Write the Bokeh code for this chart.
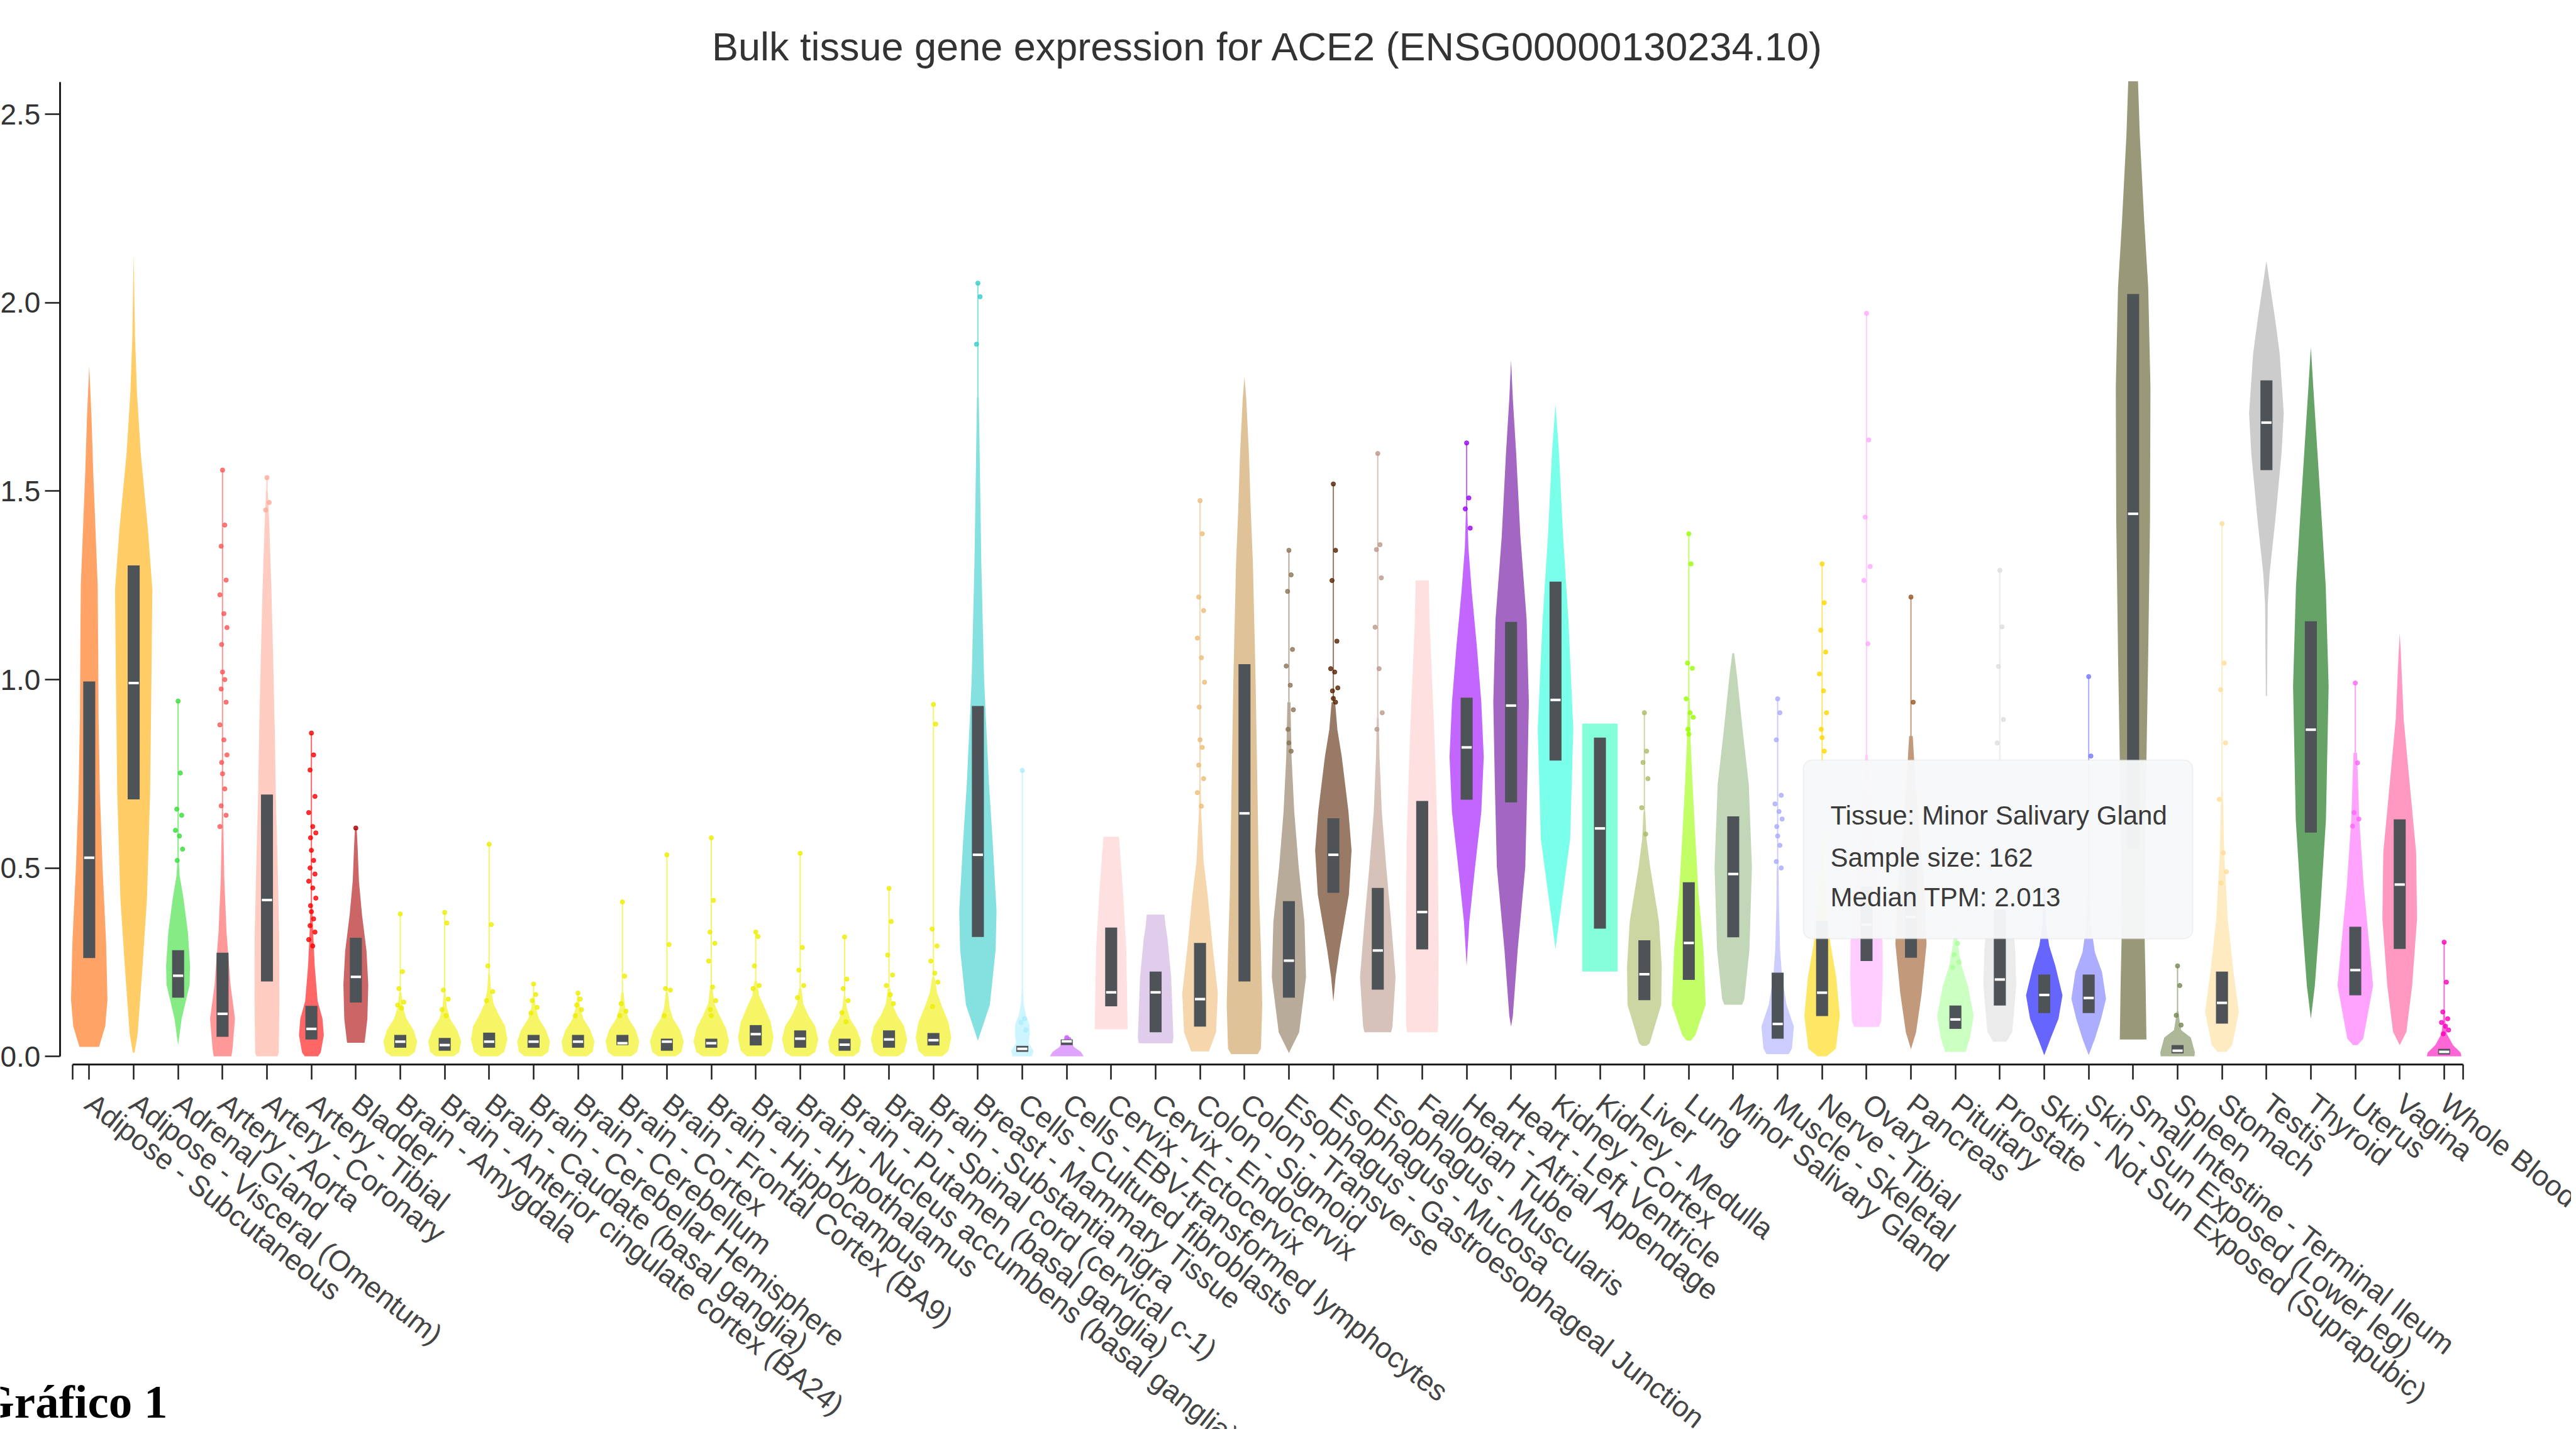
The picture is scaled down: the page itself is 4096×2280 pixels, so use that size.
import math
from bokeh.plotting import figure
from bokeh.models import Range1d, FixedTicker, BoxAnnotation, Label, ColumnDataSource, NumeralTickFormatter
from bokeh.embed import file_html
from bokeh.resources import INLINE

# ---------------- data ----------------
TISSUES = [
    "Adipose - Subcutaneous", "Adipose - Visceral (Omentum)", "Adrenal Gland", "Artery - Aorta",
    "Artery - Coronary", "Artery - Tibial", "Bladder", "Brain - Amygdala",
    "Brain - Anterior cingulate cortex (BA24)", "Brain - Caudate (basal ganglia)",
    "Brain - Cerebellar Hemisphere", "Brain - Cerebellum", "Brain - Cortex",
    "Brain - Frontal Cortex (BA9)", "Brain - Hippocampus", "Brain - Hypothalamus",
    "Brain - Nucleus accumbens (basal ganglia)", "Brain - Putamen (basal ganglia)",
    "Brain - Spinal cord (cervical c-1)", "Brain - Substantia nigra", "Breast - Mammary Tissue",
    "Cells - Cultured fibroblasts", "Cells - EBV-transformed lymphocytes", "Cervix - Ectocervix",
    "Cervix - Endocervix", "Colon - Sigmoid", "Colon - Transverse",
    "Esophagus - Gastroesophageal Junction", "Esophagus - Mucosa", "Esophagus - Muscularis",
    "Fallopian Tube", "Heart - Atrial Appendage", "Heart - Left Ventricle", "Kidney - Cortex",
    "Kidney - Medulla", "Liver", "Lung", "Minor Salivary Gland", "Muscle - Skeletal",
    "Nerve - Tibial", "Ovary", "Pancreas", "Pituitary", "Prostate",
    "Skin - Not Sun Exposed (Suprapubic)", "Skin - Sun Exposed (Lower leg)",
    "Small Intestine - Terminal Ileum", "Spleen", "Stomach", "Testis", "Thyroid", "Uterus",
    "Vagina", "Whole Blood",
]

COLORS = [
    "#FF6600", "#FFAA00", "#33DD33", "#FF5555", "#FFAA99", "#FF0000", "#AA0000",
    "#EEEE00", "#EEEE00", "#EEEE00", "#EEEE00", "#EEEE00", "#EEEE00", "#EEEE00",
    "#EEEE00", "#EEEE00", "#EEEE00", "#EEEE00", "#EEEE00", "#EEEE00",
    "#33CCCC", "#AAEEFF", "#CC66FF", "#FFCCCC", "#CCAADD", "#EEBB77", "#CC9955",
    "#8B7355", "#552200", "#BB9988", "#FFCCCC", "#9900FF", "#660099", "#22FFDD",
    "#33FFC2", "#AABB66", "#99FF00", "#99BB88", "#AAAAFF", "#FFD700", "#FFAAFF",
    "#995522", "#AAFF99", "#DDDDDD", "#0000FF", "#7777FF", "#555522", "#778855",
    "#FFDD99", "#AAAAAA", "#006600", "#FF66FF", "#FF5599", "#FF00BB",
]

Q1 = [0.261, 0.682, 0.156, 0.052, 0.199, 0.045, 0.143,
      0.023, 0.015, 0.023, 0.023, 0.023, 0.030, 0.015, 0.023, 0.029, 0.023, 0.015, 0.023, 0.029,
      0.317, 0.012, 0.030, 0.133, 0.064, 0.079, 0.199, 0.156, 0.434, 0.177, 0.284,
      0.681, 0.674, 0.785, 0.339, 0.149, 0.203, 0.316, 0.047, 0.107, 0.253, 0.262,
      0.073, 0.135, 0.115, 0.115, 0.550, 0.008, 0.087, 1.556, 0.594, 0.162, 0.285, 0.005]
MEDIAN = [0.527, 0.991, 0.214, 0.113, 0.415, 0.073, 0.211,
          0.039, 0.030, 0.039, 0.039, 0.039, 0.035, 0.039, 0.035, 0.059, 0.047, 0.031, 0.045, 0.043,
          0.535, 0.020, 0.040, 0.170, 0.170, 0.152, 0.645, 0.254, 0.535, 0.281, 0.383,
          0.820, 0.931, 0.946, 0.605, 0.218, 0.301, 0.484, 0.086, 0.169, 0.350, 0.370,
          0.098, 0.204, 0.163, 0.155, 1.440, 0.015, 0.142, 1.682, 0.867, 0.229, 0.456, 0.012]
Q3 = [0.995, 1.303, 0.282, 0.275, 0.695, 0.134, 0.315,
      0.057, 0.049, 0.063, 0.057, 0.057, 0.057, 0.047, 0.047, 0.083, 0.069, 0.047, 0.069, 0.062,
      0.930, 0.028, 0.045, 0.342, 0.225, 0.301, 1.041, 0.412, 0.632, 0.447, 0.678,
      0.952, 1.153, 1.260, 0.846, 0.308, 0.462, 0.637, 0.222, 0.360, 0.450, 0.500,
      0.135, 0.390, 0.217, 0.217, 2.023, 0.030, 0.225, 1.794, 1.155, 0.344, 0.629, 0.020]

# top of the thin whisker line above each violin (None = no line)
TAIL_MAX = [None, None, 0.943, 1.556, 1.536, 0.858, None,
            0.378, 0.382, 0.563, 0.192, 0.168, 0.410, 0.535, 0.580, 0.330, 0.539, 0.317, 0.446, 0.934,
            2.052, 0.759, None, None, None, 1.475, None, 1.343, 1.519, 1.600, None,
            1.628, None, None, None, 0.912, 1.387, None, 0.949, 1.307, 1.972, 1.219,
            0.340, 1.290, None, 1.008, None, 0.240, 1.414, None, None, 0.991, None, 0.303]

# violin outline: values (TPM) and half widths (fraction of a category band)
VIOLIN_V = [
    [0.025, 0.08, 0.15, 0.3, 0.5, 0.7, 0.9, 1.1, 1.25, 1.4, 1.55, 1.7, 1.833],
    [0.01, 0.06, 0.24, 0.42, 0.7, 1.0, 1.24, 1.4, 1.6, 1.76, 1.91, 2.13],
    [0.03, 0.1, 0.19, 0.24, 0.33, 0.42, 0.48, 0.52],
    [0.0, 0.02, 0.1, 0.19, 0.33, 0.47, 0.6, 0.65],
    [0.0, 0.01, 0.15, 0.33, 0.51, 0.69, 0.87, 1.05, 1.24, 1.4, 1.5],
    [0.0, 0.01, 0.056, 0.1, 0.147, 0.24, 0.33, 0.4],
    [0.036, 0.038, 0.1, 0.19, 0.28, 0.375, 0.465, 0.556, 0.606],
    [0.0, 0.012, 0.04, 0.07, 0.1, 0.13, 0.17],
    [0.0, 0.012, 0.04, 0.07, 0.1, 0.13, 0.17],
    [0.0, 0.012, 0.045, 0.08, 0.11, 0.14, 0.18, 0.22],
    [0.0, 0.012, 0.04, 0.07, 0.1, 0.13, 0.16],
    [0.0, 0.012, 0.04, 0.07, 0.1, 0.13, 0.16],
    [0.0, 0.012, 0.04, 0.07, 0.1, 0.13, 0.17],
    [0.0, 0.012, 0.04, 0.07, 0.1, 0.13, 0.17],
    [0.0, 0.012, 0.04, 0.075, 0.11, 0.14, 0.18],
    [0.0, 0.015, 0.05, 0.09, 0.13, 0.16, 0.2],
    [0.0, 0.012, 0.045, 0.08, 0.11, 0.14, 0.18],
    [0.0, 0.012, 0.04, 0.07, 0.1, 0.13, 0.16],
    [0.0, 0.012, 0.045, 0.08, 0.11, 0.14, 0.18],
    [0.0, 0.015, 0.05, 0.09, 0.13, 0.17, 0.21],
    [0.042, 0.137, 0.284, 0.386, 0.576, 0.722, 1.0, 1.31, 1.6, 1.75],
    [0.0, 0.015, 0.035, 0.06, 0.085, 0.11, 0.14, 0.18],
    [0.0, 0.012, 0.025, 0.04, 0.055],
    [0.072, 0.08, 0.284, 0.43, 0.576, 0.583],
    [0.035, 0.05, 0.21, 0.31, 0.35, 0.376],
    [0.013, 0.064, 0.167, 0.284, 0.43, 0.517, 0.65, 0.75],
    [0.006, 0.02, 0.137, 0.284, 0.43, 0.722, 1.0, 1.307, 1.453, 1.6, 1.745, 1.804],
    [0.009, 0.064, 0.21, 0.357, 0.503, 0.65, 0.795, 0.94],
    [0.145, 0.21, 0.284, 0.43, 0.547, 0.65, 0.795, 0.868, 0.94],
    [0.064, 0.079, 0.21, 0.357, 0.503, 0.65, 0.795, 0.9],
    [0.064, 0.08, 0.284, 0.576, 0.868, 1.16, 1.263],
    [0.24, 0.357, 0.503, 0.649, 0.795, 0.94, 1.088, 1.234, 1.35, 1.45],
    [0.079, 0.108, 0.284, 0.503, 0.722, 0.94, 1.16, 1.38, 1.6, 1.745, 1.848],
    [0.284, 0.357, 0.576, 0.868, 1.16, 1.38, 1.6, 1.731],
    [0.225, 0.883],
    [0.028, 0.035, 0.137, 0.24, 0.357, 0.503, 0.576, 0.65],
    [0.042, 0.057, 0.137, 0.284, 0.43, 0.576, 0.722, 0.84, 0.95],
    [0.137, 0.152, 0.284, 0.503, 0.722, 0.868, 1.015, 1.07],
    [0.006, 0.02, 0.079, 0.137, 0.21, 0.284, 0.4, 0.5],
    [0.0, 0.02, 0.108, 0.21, 0.298, 0.4, 0.5, 0.6],
    [0.078, 0.094, 0.21, 0.298, 0.43, 0.55, 0.7, 0.8],
    [0.019, 0.064, 0.167, 0.298, 0.45, 0.6, 0.75, 0.85],
    [0.012, 0.05, 0.108, 0.188, 0.24, 0.294, 0.33],
    [0.039, 0.065, 0.188, 0.276, 0.35, 0.45, 0.55, 0.65],
    [0.003, 0.047, 0.1, 0.162, 0.24, 0.294, 0.35, 0.45],
    [0.003, 0.047, 0.1, 0.153, 0.224, 0.276, 0.35, 0.45],
    [0.045, 0.2, 0.364, 0.717, 1.07, 1.42, 1.776, 2.04, 2.217, 2.447, 2.588],
    [0.0, 0.01, 0.05, 0.07, 0.1, 0.12],
    [0.012, 0.03, 0.118, 0.224, 0.365, 0.54, 0.7],
    [0.956, 1.2, 1.28, 1.423, 1.6, 1.706, 1.864, 1.953, 2.04, 2.111],
    [0.1, 0.188, 0.364, 0.629, 0.982, 1.247, 1.423, 1.6, 1.776, 1.882],
    [0.03, 0.047, 0.188, 0.276, 0.453, 0.629, 0.806],
    [0.03, 0.065, 0.188, 0.365, 0.541, 0.717, 0.894, 1.07, 1.123],
    [0.0, 0.01, 0.03, 0.06, 0.09, 0.12],
]
VIOLIN_W = [
    [0.22, 0.36, 0.41, 0.38, 0.30, 0.24, 0.21, 0.20, 0.19, 0.14, 0.09, 0.05, 0.0],
    [0.02, 0.09, 0.20, 0.30, 0.37, 0.40, 0.42, 0.32, 0.16, 0.075, 0.03, 0.0],
    [0.0, 0.08, 0.26, 0.27, 0.22, 0.12, 0.035, 0.015],
    [0.20, 0.225, 0.28, 0.18, 0.09, 0.04, 0.02, 0.015],
    [0.24, 0.265, 0.28, 0.275, 0.24, 0.20, 0.175, 0.14, 0.10, 0.056, 0.02],
    [0.15, 0.21, 0.28, 0.25, 0.14, 0.075, 0.04, 0.02],
    [0.19, 0.20, 0.26, 0.28, 0.24, 0.14, 0.07, 0.04, 0.02],
    [0.20, 0.33, 0.38, 0.30, 0.14, 0.06, 0.025],
    [0.20, 0.33, 0.37, 0.28, 0.12, 0.05, 0.02],
    [0.20, 0.34, 0.41, 0.36, 0.22, 0.10, 0.04, 0.02],
    [0.20, 0.33, 0.37, 0.28, 0.12, 0.05, 0.02],
    [0.20, 0.33, 0.37, 0.28, 0.12, 0.05, 0.02],
    [0.20, 0.33, 0.38, 0.30, 0.14, 0.06, 0.025],
    [0.20, 0.33, 0.38, 0.30, 0.14, 0.06, 0.025],
    [0.20, 0.34, 0.40, 0.33, 0.18, 0.07, 0.03],
    [0.20, 0.34, 0.40, 0.34, 0.20, 0.08, 0.03],
    [0.20, 0.34, 0.41, 0.34, 0.18, 0.07, 0.03],
    [0.20, 0.33, 0.37, 0.28, 0.12, 0.05, 0.02],
    [0.20, 0.34, 0.41, 0.34, 0.18, 0.07, 0.03],
    [0.20, 0.34, 0.40, 0.34, 0.20, 0.08, 0.03],
    [0.0, 0.27, 0.40, 0.42, 0.33, 0.25, 0.14, 0.077, 0.04, 0.02],
    [0.22, 0.25, 0.14, 0.17, 0.16, 0.08, 0.03, 0.015],
    [0.38, 0.32, 0.16, 0.10, 0.02],
    [0.37, 0.37, 0.34, 0.27, 0.18, 0.17],
    [0.38, 0.40, 0.35, 0.27, 0.22, 0.20],
    [0.20, 0.36, 0.40, 0.29, 0.17, 0.08, 0.025, 0.012],
    [0.30, 0.37, 0.40, 0.37, 0.33, 0.29, 0.25, 0.19, 0.14, 0.10, 0.04, 0.0],
    [0.0, 0.23, 0.385, 0.35, 0.22, 0.12, 0.06, 0.035],
    [0.0, 0.05, 0.14, 0.35, 0.41, 0.34, 0.19, 0.09, 0.04],
    [0.30, 0.33, 0.40, 0.30, 0.19, 0.09, 0.04, 0.02],
    [0.34, 0.36, 0.37, 0.35, 0.27, 0.165, 0.15],
    [0.0, 0.06, 0.19, 0.33, 0.385, 0.33, 0.23, 0.115, 0.04, 0.015],
    [0.0, 0.04, 0.15, 0.32, 0.365, 0.40, 0.35, 0.21, 0.115, 0.04, 0.0],
    [0.0, 0.08, 0.33, 0.40, 0.29, 0.17, 0.08, 0.0],
    [0.40, 0.40],
    [0.05, 0.12, 0.38, 0.39, 0.33, 0.13, 0.05, 0.02],
    [0.05, 0.15, 0.38, 0.33, 0.22, 0.15, 0.085, 0.04, 0.02],
    [0.20, 0.25, 0.365, 0.42, 0.35, 0.21, 0.08, 0.02],
    [0.25, 0.32, 0.365, 0.20, 0.10, 0.054, 0.03, 0.02],
    [0.10, 0.31, 0.40, 0.32, 0.19, 0.10, 0.04, 0.02],
    [0.28, 0.33, 0.365, 0.36, 0.30, 0.18, 0.08, 0.03],
    [0.0, 0.115, 0.24, 0.35, 0.30, 0.18, 0.09, 0.04],
    [0.23, 0.33, 0.41, 0.28, 0.14, 0.06, 0.02],
    [0.15, 0.28, 0.37, 0.35, 0.30, 0.22, 0.12, 0.05],
    [0.0, 0.14, 0.32, 0.41, 0.25, 0.11, 0.04, 0.02],
    [0.0, 0.14, 0.28, 0.39, 0.30, 0.14, 0.05, 0.02],
    [0.30, 0.28, 0.25, 0.29, 0.34, 0.38, 0.39, 0.34, 0.25, 0.15, 0.11],
    [0.38, 0.39, 0.30, 0.08, 0.04, 0.02],
    [0.10, 0.23, 0.38, 0.26, 0.13, 0.05, 0.02],
    [0.012, 0.03, 0.07, 0.20, 0.34, 0.39, 0.30, 0.20, 0.09, 0.0],
    [0.0, 0.09, 0.20, 0.34, 0.40, 0.335, 0.245, 0.15, 0.055, 0.0],
    [0.05, 0.18, 0.40, 0.33, 0.19, 0.09, 0.04],
    [0.0, 0.15, 0.28, 0.39, 0.37, 0.23, 0.09, 0.025, 0.0],
    [0.39, 0.37, 0.20, 0.06, 0.03, 0.015],
]

# outlier points (TPM)
POINTS = [
    [], [],
    [0.943, 0.752, 0.656, 0.64, 0.6, 0.585, 0.55, 0.52],
    [1.556, 1.41, 1.354, 1.264, 1.225, 1.175, 1.138, 1.093, 1.02, 1.0, 0.975, 0.94, 0.88, 0.84,
     0.8, 0.78, 0.75, 0.71, 0.665, 0.64, 0.61],
    [1.536, 1.47, 1.45],
    [0.858, 0.8, 0.76, 0.69, 0.647, 0.61, 0.593, 0.58, 0.547, 0.52, 0.5, 0.484, 0.465, 0.447,
     0.42, 0.4, 0.384, 0.365, 0.347, 0.33, 0.31, 0.293],
    [0.606],
    [0.378, 0.225, 0.18, 0.144, 0.136, 0.128],
    [0.382, 0.354, 0.176, 0.152, 0.124, 0.108],
    [0.563, 0.35, 0.24, 0.172, 0.148],
    [0.192, 0.164, 0.148, 0.13, 0.115],
    [0.168, 0.152, 0.136, 0.124, 0.108],
    [0.41, 0.213, 0.14, 0.12, 0.108],
    [0.535, 0.297, 0.18, 0.176, 0.108],
    [0.58, 0.414, 0.33, 0.3, 0.253, 0.184, 0.148, 0.124, 0.108],
    [0.33, 0.318, 0.24, 0.188, 0.18],
    [0.539, 0.289, 0.229, 0.188, 0.156],
    [0.317, 0.205, 0.18, 0.148, 0.116, 0.092],
    [0.446, 0.358, 0.269, 0.216, 0.188, 0.164, 0.14],
    [0.934, 0.882, 0.338, 0.293, 0.253, 0.221, 0.197, 0.132],
    [2.052, 2.016, 1.89],
    [0.759, 0.1, 0.09, 0.07],
    [0.05, 0.045],
    [], [],
    [1.475, 1.387, 1.219, 1.183, 1.11, 1.058, 0.993, 0.927, 0.84, 0.82, 0.773, 0.737, 0.7, 0.664],
    [],
    [1.343, 1.278, 1.234, 1.08, 1.036, 0.985, 0.92, 0.868, 0.832, 0.81],
    [1.519, 1.343, 1.263, 1.102, 1.029, 1.02, 0.978, 0.97, 0.95, 0.94],
    [1.6, 1.358, 1.345, 1.27, 1.139, 1.029, 0.912, 0.868],
    [],
    [1.628, 1.482, 1.453, 1.402],
    [], [], [],
    [0.912, 0.81, 0.78, 0.737, 0.66, 0.59],
    [1.387, 1.307, 1.044, 1.03, 0.949, 0.912, 0.9, 0.868, 0.855],
    [],
    [0.949, 0.912, 0.84, 0.693, 0.67, 0.65, 0.63, 0.61, 0.585, 0.56, 0.517, 0.5],
    [1.307, 1.204, 1.131, 1.073, 1.015, 0.97, 0.912, 0.868, 0.846, 0.81],
    [1.972, 1.636, 1.431, 1.3, 1.263, 1.095],
    [1.219, 0.94],
    [0.34, 0.3, 0.27, 0.25, 0.236],
    [1.29, 1.14, 1.035, 0.894, 0.832],
    [],
    [1.008, 0.797],
    [],
    [0.24, 0.188, 0.109, 0.083],
    [1.414, 1.044, 0.973, 0.832, 0.682, 0.54, 0.49, 0.46],
    [], [],
    [0.991, 0.779, 0.647, 0.63, 0.611],
    [],
    [0.303, 0.197, 0.118, 0.1, 0.09, 0.08, 0.07, 0.06],
]

Y_TICKS = [0.0, 0.5, 1.0, 1.5, 2.0, 2.5]
TITLE = "Bulk tissue gene expression for ACE2 (ENSG00000130234.10)"
TOOLTIP_LINES = ["Tissue: Minor Salivary Gland", "Sample size: 162", "Median TPM: 2.013"]
CAPTION = "Gráfico 1"

# ---------------- layout (canvas pixels) ----------------
W, H = 4088, 2272
X0_PX, BAND = 141.4, 70.65                    # first category centre, px per category
Y0_PX, UNIT = 1679.1, 599.1                   # y=0 position, px per TPM unit
XAXIS_PY, YAXIS_PX = 1692, 94.9               # where the two axis lines sit


def xd(px):
    return (px - X0_PX) / BAND


def yd(py):
    return (Y0_PX - py) / UNIT


FONT = "Liberation Sans"

# the frame covers the whole canvas; axes are pinned with fixed_location
p = figure(width=W, height=H,
           x_range=Range1d(xd(0), xd(W)), y_range=Range1d(yd(H), yd(0)),
           output_backend="svg", toolbar_location=None, min_border=0)
p.title.visible = False
p.outline_line_color = None
p.grid.visible = False
p.background_fill_color = "white"
p.border_fill_color = "white"

# ---------------- violins ----------------
vx, vy, vc = [], [], []
for i, (vs, ws) in enumerate(zip(VIOLIN_V, VIOLIN_W)):
    xs = [i + w for w in ws] + [i - w for w in reversed(ws)]
    ys = list(vs) + list(reversed(vs))
    vx.append(xs)
    vy.append(ys)
    vc.append(COLORS[i])
p.patches(xs="xs", ys="ys", fill_color="c", fill_alpha=0.6, line_color=None,
          source=ColumnDataSource(dict(xs=vx, ys=vy, c=vc)))

# thin whisker lines above violins
tx, ty0, ty1, tc = [], [], [], []
for i, tmax in enumerate(TAIL_MAX):
    if tmax is None:
        continue
    tx.append(i)
    ty0.append(VIOLIN_V[i][-1])
    ty1.append(tmax)
    tc.append(COLORS[i])
p.segment(x0="x", y0="y0", x1="x", y1="y1", line_color="c", line_alpha=0.6, line_width=2,
          source=ColumnDataSource(dict(x=tx, y0=ty0, y1=ty1, c=tc)))

# outlier points (small deterministic horizontal spread)
JIT = [0.0, 0.05, -0.03, 0.08, -0.06, 0.03, 0.1, -0.02]
px_, py_, pc_ = [], [], []
for i, pts in enumerate(POINTS):
    for k, v in enumerate(pts):
        px_.append(i + JIT[k % len(JIT)])
        py_.append(v)
        pc_.append(COLORS[i])
p.scatter(x="x", y="y", size=7, fill_color="c", line_color="c", fill_alpha=0.8, line_alpha=0.8,
          source=ColumnDataSource(dict(x=px_, y=py_, c=pc_)))

# boxes + medians
idx = list(range(len(TISSUES)))
p.quad(left=[i - 0.135 for i in idx], right=[i + 0.135 for i in idx], bottom=Q1, top=Q3,
       fill_color="#4e5357", line_color=None)
p.rect(x=idx, y=MEDIAN, width=0.23, height=4, height_units="screen",
       fill_color="white", line_color=None)

# ---------------- axes ----------------
xa = p.xaxis[0]
xa.fixed_location = yd(XAXIS_PY)
x_ticks = [-0.38] + idx + [53.42]
xa.ticker = FixedTicker(ticks=x_ticks)
overrides = {i: name for i, name in enumerate(TISSUES)}
overrides[-0.38] = ""
overrides[53.42] = ""
xa.major_label_overrides = overrides
xa.bounds = (-0.38, 53.42)
xa.major_label_orientation = -math.radians(38)
xa.major_tick_out = 24
xa.major_tick_in = 0
xa.minor_tick_out = 0
xa.minor_tick_in = 0
xa.axis_line_width = 3
xa.axis_line_color = "#1e1e1e"
xa.major_tick_line_width = 2.5
xa.major_tick_line_color = "#1e1e1e"
xa.major_label_text_font = FONT
xa.major_label_text_font_size = "46px"
xa.major_label_text_color = "#444444"
xa.major_label_standoff = 32

ya = p.yaxis[0]
ya.fixed_location = xd(YAXIS_PX)
ya.ticker = FixedTicker(ticks=Y_TICKS)
ya.formatter = NumeralTickFormatter(format="0.0")
ya.bounds = (0, 2.586)
ya.major_tick_out = 24
ya.major_tick_in = 0
ya.minor_tick_out = 0
ya.minor_tick_in = 0
ya.axis_line_width = 3
ya.axis_line_color = "#1e1e1e"
ya.major_tick_line_width = 2.5
ya.major_tick_line_color = "#1e1e1e"
ya.major_label_text_font = FONT
ya.major_label_text_font_size = "46px"
ya.major_label_text_color = "#333333"
ya.major_label_standoff = 7

# ---------------- annotations ----------------
p.add_layout(Label(x=xd(2015.7), y=yd(73), text=TITLE, text_align="center",
                   text_baseline="alphabetic", text_font=FONT, text_font_size="63px",
                   text_color="#333333"))

p.add_layout(BoxAnnotation(left=xd(2867), right=xd(3486), top=yd(1208), bottom=yd(1492),
                           fill_color="#f7f8f9", fill_alpha=0.96, line_color="#d6d6d6",
                           line_width=2, border_radius=14))
for line, base in zip(TOOLTIP_LINES, [1296, 1363, 1426]):
    p.add_layout(Label(x=xd(2910), y=yd(base), text=line, text_align="left",
                       text_baseline="alphabetic", text_font=FONT, text_font_size="42px",
                       text_color="#3a3a3a"))

p.add_layout(Label(x=xd(-36), y=yd(2228), text=CAPTION, text_align="left",
                   text_baseline="alphabetic", text_font="Liberation Serif",
                   text_font_style="bold", text_font_size="75px", text_color="#000000"))

open("out.html", "w").write(file_html(p, INLINE))
